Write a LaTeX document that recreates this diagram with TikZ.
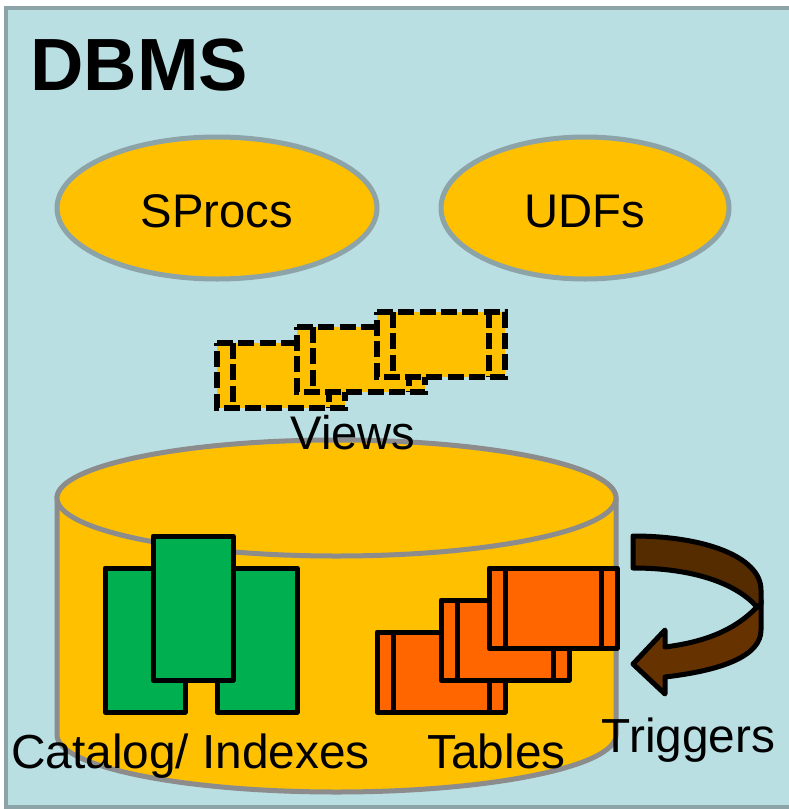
\documentclass[tikz,border=0pt]{standalone}
\usepackage{fontspec}
\setmainfont{Liberation Sans}
\usetikzlibrary{shapes.geometric}
\definecolor{bgblue}{HTML}{B9DFE3}
\definecolor{edgegray}{HTML}{8CA3A8}
\definecolor{cylgray}{HTML}{8C8C8C}
\definecolor{amber}{HTML}{FFC000}
\definecolor{leaf}{HTML}{00B050}
\definecolor{tang}{HTML}{FF6600}
\definecolor{brownA}{HTML}{552B00}
\definecolor{brownB}{HTML}{663300}
\tikzset{
  x=1pt,y=-1pt,
  label48/.style={font=\fontsize{47.8}{50}\selectfont,inner sep=0pt,text=black,anchor=base},
  label47/.style={font=\fontsize{47.2}{50}\selectfont,inner sep=0pt,text=black,anchor=base},
  oval/.style={ellipse,draw=edgegray,fill=amber,line width=5pt,inner sep=0pt,minimum height=142pt},
  greenbox/.style={draw=black,fill=leaf,line width=5pt,line join=round},
  orangebox/.style={draw=black,fill=tang,line width=5pt,line join=round},
  divider/.style={draw=black,line width=5pt},
  viewbox/.style={draw=black,fill=none,line width=5.3pt,dash pattern=on 16pt off 5.3pt},
  curl/.style={draw=black,line width=5pt,line join=round},
  cyl/.style={draw=cylgray,fill=amber,line width=5pt}
}
\begin{document}
\begin{tikzpicture}
\useasboundingbox (0,0) rectangle (789,809);
\begin{scope}
\clip (0,0) rectangle (789,809);
\draw[draw=edgegray,fill=bgblue,line width=4pt] (6,8) rectangle (810,807);
\end{scope}
\node[anchor=base west,inner sep=0pt,font=\fontsize{74}{74}\selectfont\bfseries] (title) at (30,90) {DBMS};
\node[oval,minimum width=320pt] (sprocs) at (217,208) {};
\node[label47] (sprocstext) at (217,227) {SProcs};
\node[oval,minimum width=288pt] (udfs) at (585,208) {};
\node[label47] (udfstext) at (585,227) {UDFs};
% views
\foreach \dx/\dy in {0/0,80/-16,160/-31}{
  \begin{scope}[shift={(\dx,\dy)}]
    \path[fill=amber] (217,343) rectangle (345,408);
    \draw[viewbox] (217,343) -- (345,343) -- (345,408) -- (217,408) -- cycle;
    \draw[viewbox] (233,343) -- (233,408);
    \draw[viewbox] (329,343) -- (329,408);
  \end{scope}
}
% cylinder
\path[cyl] (57,498) -- (57,735) arc[start angle=180,end angle=360,x radius=279.5,y radius=-57] -- (616,498) arc[start angle=0,end angle=180,x radius=279.5,y radius=-57] -- cycle;
\draw[cyl] (336.5,498) ellipse[x radius=279.5,y radius=58];
\node[label47] (views) at (353,449) {Views};
% green
\draw[greenbox] (105,568) rectangle (185,712);
\draw[greenbox] (217,568) rectangle (297,712);
\draw[greenbox] (153,536) rectangle (233,680);
% orange
\foreach \a/\b/\c/\d/\e/\f in {377/505/632/712/393/489,441/569/600/680/457/553,489/617/568/648/505/601}{
  \draw[orangebox] (\a,\c) rectangle (\b,\d);
  \draw[divider] (\e,\c) -- (\e,\d);
  \draw[divider] (\f,\c) -- (\f,\d);
}
\node[label48] (catalog) at (190.5,768) {Catalog/ Indexes};
\node[label48] (tables) at (496.5,768) {Tables};
\node[label48] (triggers) at (688.5,752) {Triggers};
% curved arrow
\draw[curl,fill=brownB] (757,607) .. controls (735,630) and (705,642) .. (665,647) -- (665,630) -- (633,664) -- (665,694) -- (665,677) .. controls (725,670) and (761,655) .. (761,630) -- (761,600) -- cycle;
\draw[curl,fill=brownA] (633,536) .. controls (705,536) and (761,557) .. (761,590) -- (761,604) -- (757,607) .. controls (735,582) and (690,568) .. (633,568) -- cycle;
\end{tikzpicture}
\end{document}
